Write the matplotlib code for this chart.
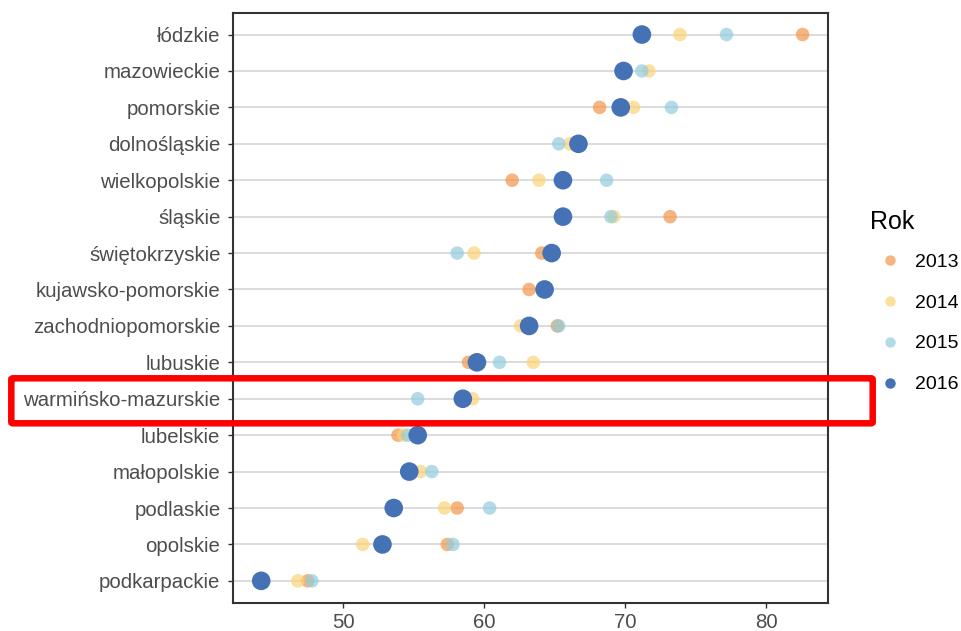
import matplotlib
matplotlib.use("Agg")
import matplotlib.pyplot as plt
from matplotlib.lines import Line2D
from matplotlib.patches import FancyBboxPatch

plt.rcParams['font.family'] = ['Liberation Sans', 'DejaVu Sans']

regions = ["łódzkie", "mazowieckie", "pomorskie", "dolnośląskie", "wielkopolskie",
           "śląskie", "świętokrzyskie", "kujawsko-pomorskie", "zachodniopomorskie",
           "lubuskie", "warmińsko-mazurskie", "lubelskie", "małopolskie", "podlaskie",
           "opolskie", "podkarpackie"]
years = ["2013", "2014", "2015", "2016"]

v2013 = [82.6, 69.9, 68.2, 66.6, 62.0, 73.2, 64.1, 63.2, 65.2, 58.9, 58.5, 53.9, 54.8, 58.1, 57.4, 47.5]
v2014 = [73.9, 71.7, 70.6, 66.1, 63.9, 69.2, 59.3, 64.3, 62.6, 63.5, 59.2, 54.3, 55.5, 57.2, 51.4, 46.8]
v2015 = [77.2, 71.2, 73.3, 65.3, 68.7, 69.0, 58.1, 64.3, 65.3, 61.1, 55.3, 54.6, 56.3, 60.4, 57.8, 47.8]
v2016 = [71.2, 69.9, 69.7, 66.7, 65.6, 65.6, 64.8, 64.3, 63.2, 59.5, 58.5, 55.3, 54.7, 53.6, 52.8, 44.2]

values = [v2013, v2014, v2015, v2016]
colors = ["#F3994F", "#FBD377", "#92CDDE", "#4472B4"]
alphas = [0.72, 0.7, 0.7, 1.0]
sizes = [95, 95, 95, 180]

fig = plt.figure(figsize=(9.62, 6.31), dpi=100)
ax = fig.add_axes([233/962, 1-602.7/631, (828-233)/962, (602.7-12.7)/631])

ypos = list(range(len(regions)))[::-1]
for y in ypos:
    ax.axhline(y, color="#DCDCDC", lw=1.4, zorder=0)

for vals, c, a, s, yr in zip(values, colors, alphas, sizes, years):
    ax.scatter(vals, ypos, s=s, color=c, alpha=a, edgecolors='none', zorder=3, label=yr)

ax.set_xlim(42.2, 84.4)
ax.set_ylim(-0.6, len(regions) - 1 + 0.6)
ax.set_xticks([50, 60, 70, 80])
ax.set_yticks(ypos)
ax.set_yticklabels(regions)
ax.tick_params(axis='both', labelsize=14.7, colors="#333333", labelcolor="#4D4D4D",
               length=3.5, width=1.0)
ax.tick_params(axis='y', pad=5.5)
ax.tick_params(axis='x', pad=4)
for sp in ax.spines.values():
    sp.set_color("#333333")
    sp.set_linewidth(1.5)

fig.text(870/962, 1-222/631, "Rok", fontsize=18, ha='left', va='center', color="black")
handles = [Line2D([], [], marker='o', linestyle='none', markersize=7.5,
                  markerfacecolor=c, markeredgecolor='none', alpha=a)
           for c, a in zip(colors, alphas)]
leg = fig.legend(handles, years, loc='upper left', bbox_to_anchor=(876/962, 1-253/631),
                 frameon=False, fontsize=14, handlelength=1.4,
                 labelspacing=1.2, handletextpad=0.6, borderaxespad=0, borderpad=0)

rect = FancyBboxPatch((11.3/962, 1-423.3/631), (872.7-11.3)/962, (423.3-378.3)/631,
                      boxstyle="round,pad=0,rounding_size=0.002",
                      transform=fig.transFigure, fill=False, edgecolor="#FF0000",
                      linewidth=4.7, zorder=10, clip_on=False)
fig.patches.append(rect)

fig.savefig("out.png", dpi=100)
